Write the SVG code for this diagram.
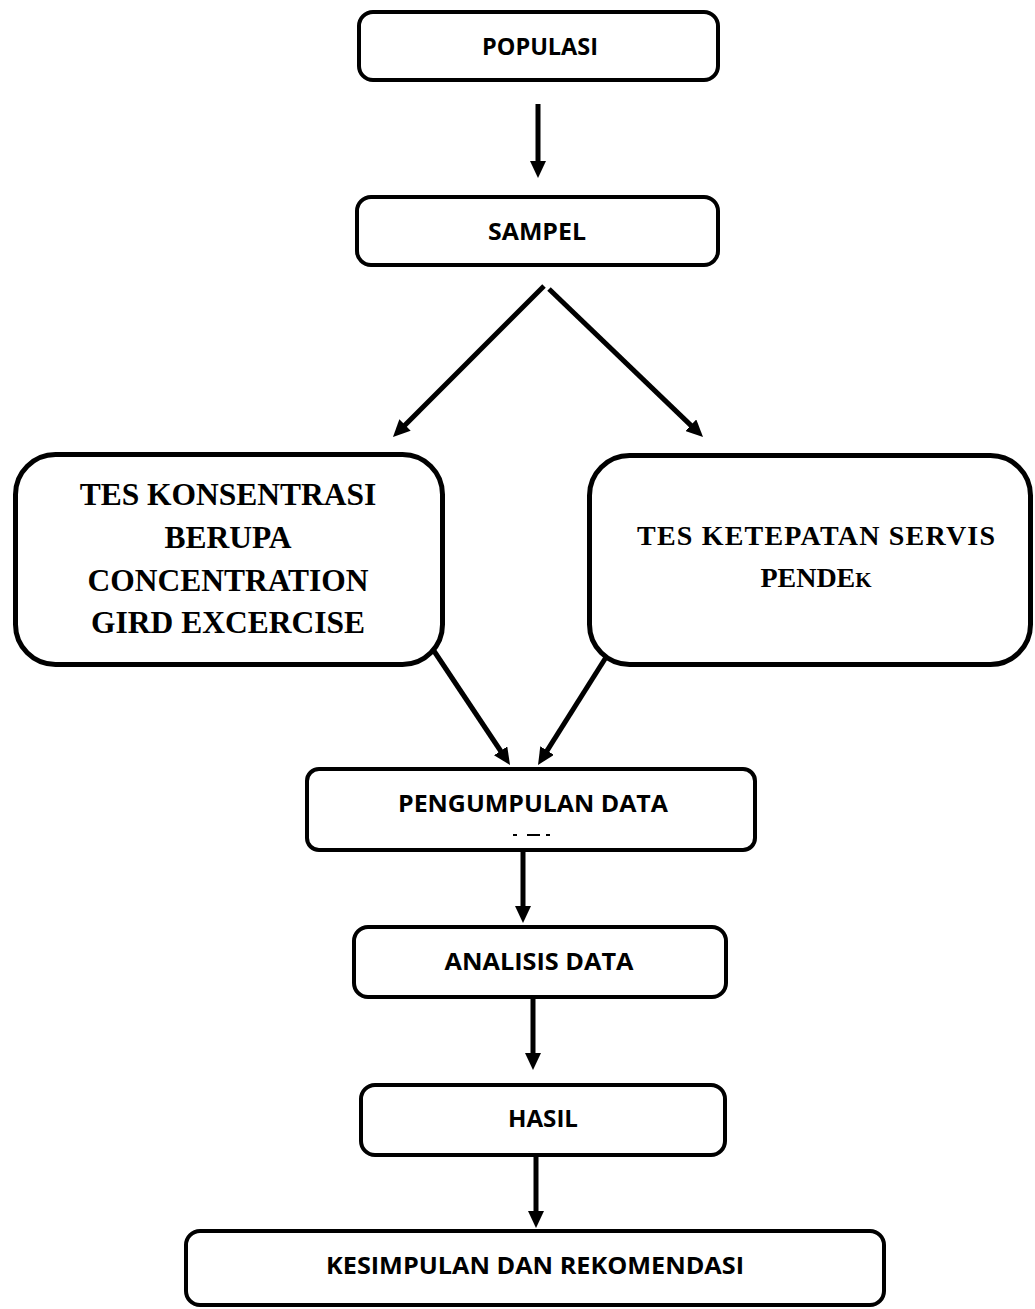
<svg xmlns="http://www.w3.org/2000/svg" width="1035" height="1309" viewBox="0 0 1035 1309">
<style>
.box{fill:#fff;stroke:#000;stroke-width:4}
.big{fill:#fff;stroke:#000;stroke-width:5}
.sans{font-family:"Open Sans","Liberation Sans",sans-serif;font-weight:bold;font-size:24px;fill:#000;text-anchor:middle}
.serif{font-family:"Liberation Serif","Times New Roman",serif;font-weight:bold;fill:#000;text-anchor:middle}
.conn{stroke:#000;stroke-width:5;fill:none}
</style>
<defs>
<marker id="ah" markerUnits="userSpaceOnUse" markerWidth="17" markerHeight="16" refX="2" refY="8" orient="auto">
<path d="M0,0 L17,8 L0,16 z" fill="#000"/>
</marker>
</defs>
<rect width="1035" height="1309" fill="#fff"/>
<g id="connectors">
<line class="conn" x1="538" y1="104" x2="538" y2="163" marker-end="url(#ah)"/>
<line class="conn" x1="544" y1="286" x2="403.6" y2="426.4" marker-end="url(#ah)"/>
<line class="conn" x1="549" y1="289" x2="692.2" y2="426.6" marker-end="url(#ah)"/>
<line class="conn" x1="430" y1="645" x2="501.7" y2="752.5" marker-end="url(#ah)"/>
<line class="conn" x1="615" y1="643" x2="546" y2="752.3" marker-end="url(#ah)"/>
<line class="conn" x1="523" y1="852" x2="523" y2="908" marker-end="url(#ah)"/>
<line class="conn" x1="533" y1="999" x2="533" y2="1055" marker-end="url(#ah)"/>
<line class="conn" x1="536" y1="1157" x2="536" y2="1213" marker-end="url(#ah)"/>
</g>
<g id="populasi">
<rect class="box" x="359" y="12" width="359" height="68" rx="14"/>
<text class="sans" x="540" y="55" textLength="116" lengthAdjust="spacingAndGlyphs">POPULASI</text>
</g>
<g id="sampel">
<rect class="box" x="357" y="197" width="361" height="68" rx="14"/>
<text class="sans" x="537" y="240" textLength="98" lengthAdjust="spacingAndGlyphs">SAMPEL</text>
</g>
<g id="tes-konsentrasi">
<path class="big" d="M55.5,454.5 H402.5 A40,40 0 0 1 442.5,494.5 V624.5 A40,40 0 0 1 402.5,664.5 H55.5 A40,40 0 0 1 15.5,624.5 V494.5 A40,40 0 0 1 55.5,454.5 Z"/>
<text class="serif" font-size="31.5" x="228" y="505">TES KONSENTRASI</text>
<text class="serif" font-size="31.5" x="228" y="548">BERUPA</text>
<text class="serif" font-size="31.5" x="228" y="591">CONCENTRATION</text>
<text class="serif" font-size="31.5" x="228" y="633">GIRD EXCERCISE</text>
</g>
<g id="tes-ketepatan">
<rect class="big" x="589.5" y="455.5" width="441" height="209" rx="40"/>
<text class="serif" font-size="28" x="816" y="545" textLength="358" lengthAdjust="spacing">TES KETEPATAN SERVIS</text>
<text class="serif" font-size="28" x="816" y="587">PENDE<tspan font-size="21">K</tspan></text>
</g>
<g id="pengumpulan">
<rect class="box" x="307" y="769" width="448" height="81" rx="12"/>
<text class="sans" x="533" y="812" textLength="270" lengthAdjust="spacingAndGlyphs">PENGUMPULAN DATA</text>
<path d="M513,835 H517 M527,835 H540 M546,835 H550" stroke="#000" stroke-width="2"/>
</g>
<g id="analisis">
<rect class="box" x="354" y="927" width="372" height="70" rx="14"/>
<text class="sans" x="539" y="970" textLength="189" lengthAdjust="spacingAndGlyphs">ANALISIS DATA</text>
</g>
<g id="hasil">
<rect class="box" x="361" y="1085" width="364" height="70" rx="14"/>
<text class="sans" x="543" y="1127" textLength="70" lengthAdjust="spacingAndGlyphs">HASIL</text>
</g>
<g id="kesimpulan">
<rect class="box" x="186" y="1231" width="698" height="74" rx="14"/>
<text class="sans" x="535" y="1274" textLength="418" lengthAdjust="spacingAndGlyphs">KESIMPULAN DAN REKOMENDASI</text>
</g>
</svg>
